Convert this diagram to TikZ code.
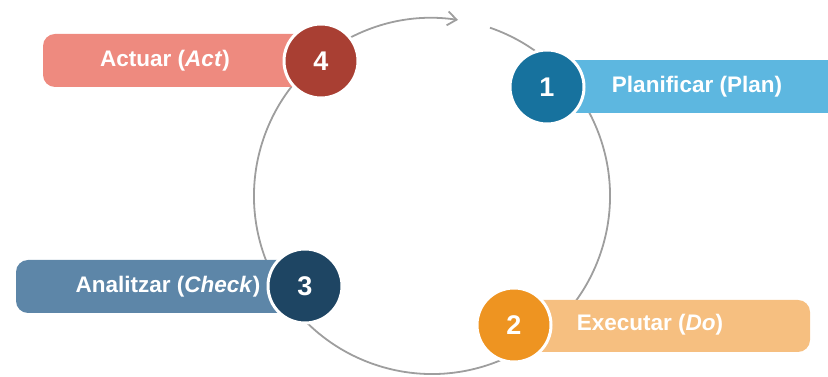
\documentclass[tikz,border=0pt]{standalone}
\usepackage{fontspec}
\setmainfont{Liberation Sans}
\usetikzlibrary{arrows.meta,calc}

\definecolor{actdark}{HTML}{A93F33}
\definecolor{actlight}{HTML}{EE8A7F}
\definecolor{plandark}{HTML}{17729E}
\definecolor{planlight}{HTML}{5DB7E0}
\definecolor{checkdark}{HTML}{1E4563}
\definecolor{checklight}{HTML}{5D86A8}
\definecolor{dodark}{HTML}{EE9421}
\definecolor{dolight}{HTML}{F6BF80}
\definecolor{ring}{HTML}{9E9E9E}

\tikzset{
  stepnum/.style={circle, minimum size=74pt, inner sep=0pt, draw=white,
    line width=3pt, text=white,
    font=\fontsize{27}{31}\selectfont\bfseries},
  steplabel/.style={text=white, inner sep=0pt,
    font=\fontsize{22.5}{27}\selectfont\bfseries},
  cycle/.style={draw=ring, line width=1.8pt,
    -{Straight Barb[length=9pt,width=14pt,line width=1.8pt]}},
}

\begin{document}
\begin{tikzpicture}[x=1pt,y=1pt]
  \useasboundingbox (0,0) rectangle (828,377);

  % cycle ring with its arrow at the top
  \coordinate (c) at (432,181);
  \draw[cycle] ($(c)+(71:178pt)$) arc[start angle=71, end angle=-278.4, radius=178pt];

  % label bars (outer corners rounded, inner end hidden by the number)
  \fill[actlight, rounded corners=12pt] (321,343) -- (43,343) -- (43,290) -- (321,290);
  \fill[planlight] (547,317) rectangle (828,264);
  \fill[checklight, rounded corners=12pt] (305,117) -- (16,117) -- (16,64) -- (305,64);
  \fill[dolight, rounded corners=12pt] (514,77) -- (810,77) -- (810,25) -- (514,25);

  % labels
  \node[steplabel] (tact) at (165,316) {Actuar (\textit{Act})};
  \node[steplabel] (tplan) at (697,290) {Planificar (Plan)};
  \node[steplabel] (tcheck) at (168,90) {Analitzar (\textit{Check})};
  \node[steplabel] (tdo) at (650,52) {Executar (\textit{Do})};

  % numbered steps
  \node[stepnum, fill=actdark] (s4) at (321,316) {4};
  \node[stepnum, fill=plandark] (s1) at (547,290) {1};
  \node[stepnum, fill=checkdark] (s3) at (305,91) {3};
  \node[stepnum, fill=dodark] (s2) at (514,52) {2};
\end{tikzpicture}
\end{document}
